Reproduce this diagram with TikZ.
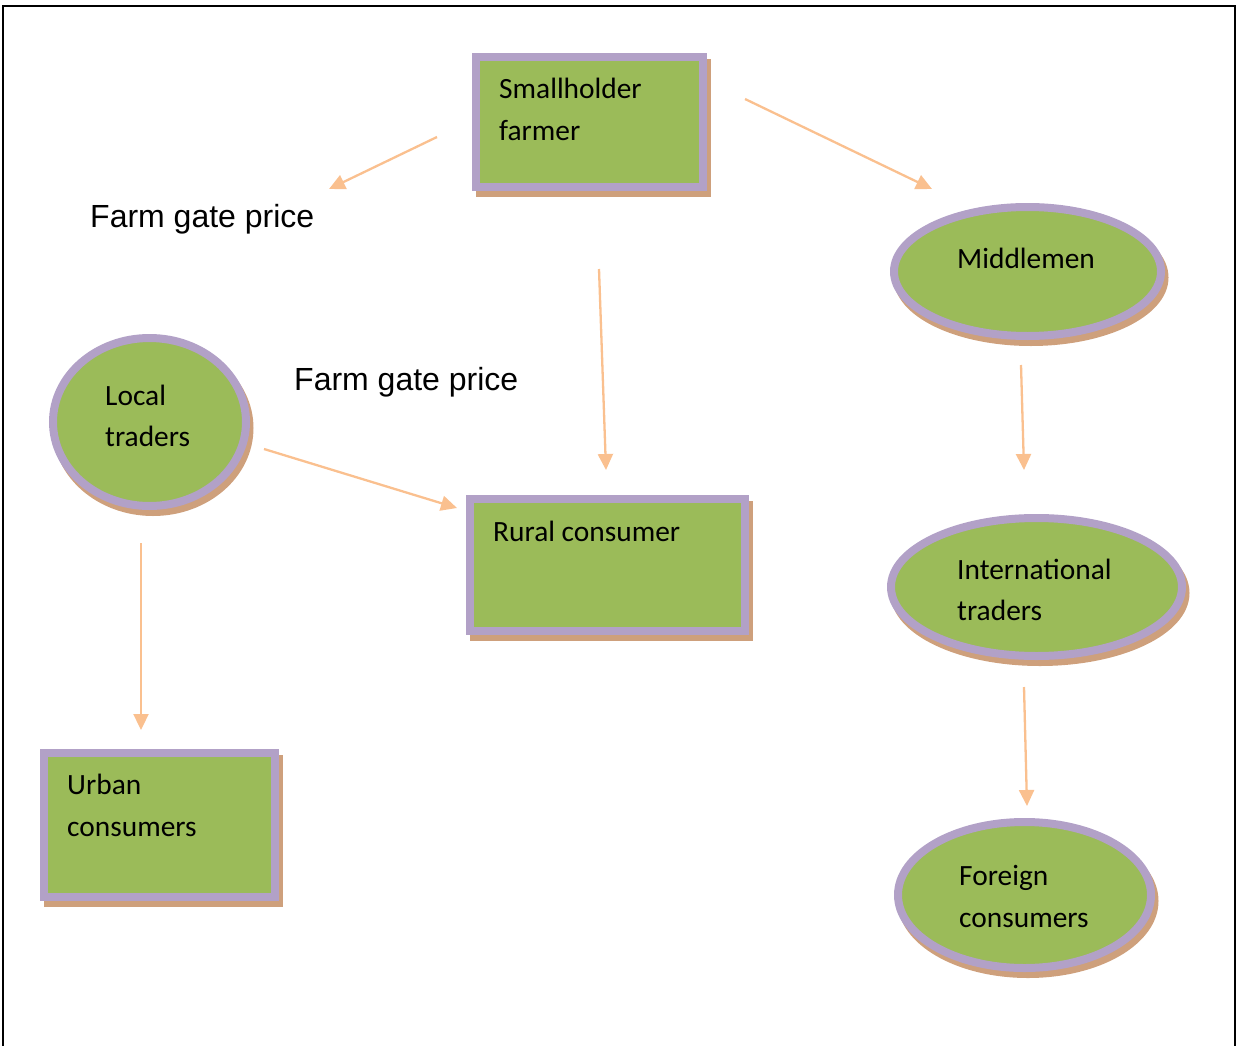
\documentclass[tikz,border=0pt]{standalone}
\usepackage{fontspec}
\setmainfont{Carlito}
\newfontfamily\arialfont{Liberation Sans}
\usetikzlibrary{arrows.meta,shapes.geometric,shadows}
\definecolor{grn}{RGB}{155,187,89}
\definecolor{purp}{RGB}{178,161,199}
\definecolor{shad}{RGB}{206,160,124}
\definecolor{arr}{RGB}{250,192,143}
\tikzset{
  sh/.style={drop shadow={shadow xshift=3.5pt, shadow yshift=-6pt, fill=shad, draw=shad, line width=8pt, opacity=1}},
  boxnode/.style={rectangle, draw=purp, fill=grn, line width=8pt, inner sep=0pt, sh},
  ellnode/.style={ellipse, draw=purp, fill=grn, line width=8pt, inner sep=0pt, sh},
  txt/.style={anchor=base west, inner sep=0pt, font=\fontsize{29.4}{35}\selectfont},
  lbl/.style={anchor=base west, inner sep=0pt, font=\arialfont\fontsize{32}{38}\selectfont},
  flow/.style={draw=arr, line width=2.3pt, -{Triangle[length=16pt,width=15pt]}}
}
\begin{document}
\begin{tikzpicture}[x=1pt,y=-1pt]
\useasboundingbox (0,0) rectangle (1236,1046);
\draw[line width=2pt] (3,1046) -- (3,6) -- (1235,6) -- (1235,1046);

% shapes
\node[boxnode, minimum width=227pt, minimum height=130pt] (farmer) at (589.5,122) {};
\node[boxnode, minimum width=275pt, minimum height=132pt] (rural) at (607.5,565) {};
\node[boxnode, minimum width=231pt, minimum height=144pt] (urban) at (159.5,825) {};
\node[ellnode, minimum width=267pt, minimum height=129pt] (middle) at (1027.5,271.5) {};
\node[ellnode, minimum width=193pt, minimum height=168pt] (local) at (149.5,422) {};
\node[ellnode, minimum width=291pt, minimum height=138pt] (intl) at (1036.5,587) {};
\node[ellnode, minimum width=253pt, minimum height=146pt] (foreign) at (1024.5,895) {};

% texts
\node[txt] (t1a) at (499,99) {Smallholder};
\node[txt] (t1b) at (499,140) {farmer};
\node[txt] (t2) at (957,268) {Middlemen};
\node[txt] (t3a) at (105,405) {Local};
\node[txt] (t3b) at (105,446) {traders};
\node[txt] (t4) at (493,541) {Rural consumer};
\node[txt] (t5a) at (957,579) {International};
\node[txt] (t5b) at (957,620) {traders};
\node[txt] (t6a) at (67,794) {Urban};
\node[txt] (t6b) at (67,836) {consumers};
\node[txt] (t7a) at (959,885) {Foreign};
\node[txt] (t7b) at (959,927) {consumers};
\node[lbl] (p1) at (90,227) {Farm gate price};
\node[lbl] (p2) at (294,390) {Farm gate price};

% connector ends
\coordinate (a1s) at (437,137); \coordinate (a1e) at (329,189);
\coordinate (a2s) at (745,99);  \coordinate (a2e) at (932,189);
\coordinate (a3s) at (599,269); \coordinate (a3e) at (606,470);
\coordinate (a4s) at (1021,365); \coordinate (a4e) at (1024,470);
\coordinate (a5s) at (264,449); \coordinate (a5e) at (457,508);
\coordinate (a6s) at (141,543); \coordinate (a6e) at (141,730);
\coordinate (a7s) at (1024,687); \coordinate (a7e) at (1027,806);

\draw[flow] (a1s) -- (a1e);
\draw[flow] (a2s) -- (a2e);
\draw[flow] (a3s) -- (a3e);
\draw[flow] (a4s) -- (a4e);
\draw[flow] (a5s) -- (a5e);
\draw[flow] (a6s) -- (a6e);
\draw[flow] (a7s) -- (a7e);
\end{tikzpicture}
\end{document}
